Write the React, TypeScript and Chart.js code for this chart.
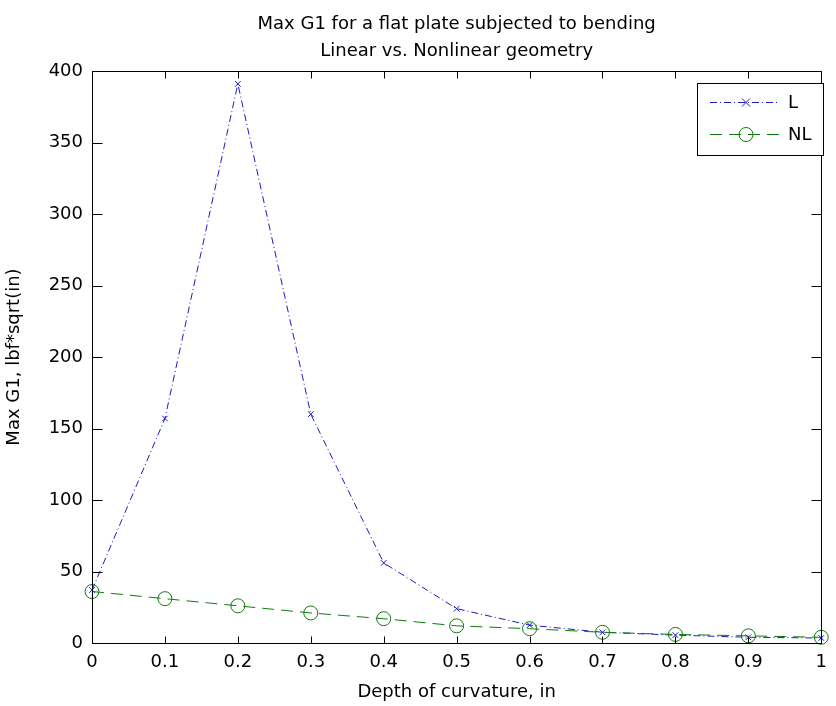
import React, { useEffect, useRef } from "react";
import { Chart, registerables } from "chart.js";

Chart.register(...registerables);

// ---- data ----
const depth = [0, 0.1, 0.2, 0.3, 0.4, 0.5, 0.6, 0.7, 0.8, 0.9, 1];
const linearG1 = [37, 157, 391, 160, 56, 24, 12.5, 7.5, 5.5, 4, 3.5];
const nonlinearG1 = [36, 31, 26, 21, 17, 12, 10, 7.5, 6, 5, 4];
const xTickValues = [0, 0.1, 0.2, 0.3, 0.4, 0.5, 0.6, 0.7, 0.8, 0.9, 1];
const yTickValues = [0, 50, 100, 150, 200, 250, 300, 350, 400];
const titleLines = ["Max G1 for a flat plate subjected to bending", "Linear vs. Nonlinear geometry"];
const xLabel = "Depth of curvature, in";
const yLabel = "Max G1, lbf*sqrt(in)";
const seriesNames = ["L", "NL"];

const FONT = "'DejaVu Sans', sans-serif";
const FONT_SIZE = 18;
const BLUE = "#1c1cc0";
const GREEN = "#107a10";
const L_DASH = [7, 3, 1, 3];
const NL_DASH = [12, 7];

const decorPlugin = {
  id: "matlabDecor",
  beforeDraw(chart: any) {
    const ctx = chart.ctx;
    ctx.save();
    ctx.fillStyle = "#ffffff";
    ctx.fillRect(0, 0, chart.width, chart.height);
    ctx.restore();
  },
  afterDraw(chart: any) {
    const ctx = chart.ctx;
    const a = chart.chartArea;
    const xs = chart.scales.x;
    const ys = chart.scales.y;
    ctx.save();
    ctx.strokeStyle = "#000";
    ctx.lineWidth = 1;
    ctx.setLineDash([]);
    // box
    const L = Math.round(a.left) + 0.5;
    const R = Math.round(a.right) + 0.5;
    const T = Math.round(a.top) + 0.5;
    const B = Math.round(a.bottom) + 0.5;
    ctx.beginPath();
    ctx.rect(L, T, R - L, B - T);
    ctx.stroke();
    // inward ticks
    const xtl = 7;
    const ytl = 10;
    ctx.beginPath();
    xTickValues.forEach((v) => {
      const px = Math.round(xs.getPixelForValue(v)) + 0.5;
      ctx.moveTo(px, B);
      ctx.lineTo(px, B - xtl);
      ctx.moveTo(px, T);
      ctx.lineTo(px, T + xtl);
    });
    yTickValues.forEach((v) => {
      const py = Math.round(ys.getPixelForValue(v)) + 0.5;
      ctx.moveTo(L, py);
      ctx.lineTo(L + ytl, py);
      ctx.moveTo(R, py);
      ctx.lineTo(R - ytl, py);
    });
    ctx.stroke();

    // legend
    const lx = 697.5, ly = 83.5, lw = 126, lh = 72;
    ctx.fillStyle = "#fff";
    ctx.fillRect(lx, ly, lw, lh);
    ctx.strokeStyle = "#000";
    ctx.strokeRect(lx, ly, lw, lh);
    const entries = [
      { y: 102, color: BLUE, dash: L_DASH, style: "crossRot", r: 4, name: seriesNames[0] },
      { y: 134, color: GREEN, dash: NL_DASH, style: "circle", r: 7, name: seriesNames[1] },
    ];
    entries.forEach((e) => {
      ctx.strokeStyle = e.color;
      ctx.lineWidth = 1;
      ctx.setLineDash(e.dash);
      ctx.beginPath();
      ctx.moveTo(710, e.y + 0.5);
      ctx.lineTo(780, e.y + 0.5);
      ctx.stroke();
      ctx.setLineDash([]);
      ctx.beginPath();
      const cx = 746, cy = e.y + 0.5;
      if (e.style === "circle") {
        ctx.arc(cx, cy, e.r, 0, Math.PI * 2);
      } else {
        ctx.moveTo(cx - e.r, cy - e.r);
        ctx.lineTo(cx + e.r, cy + e.r);
        ctx.moveTo(cx - e.r, cy + e.r);
        ctx.lineTo(cx + e.r, cy - e.r);
      }
      ctx.stroke();
      ctx.fillStyle = "#000";
      ctx.font = `${FONT_SIZE}px ${FONT}`;
      ctx.textAlign = "left";
      ctx.textBaseline = "middle";
      ctx.fillText(e.name, 788, e.y + 1);
    });

    // titles and axis labels
    ctx.fillStyle = "#000";
    ctx.font = `${FONT_SIZE}px ${FONT}`;
    ctx.textAlign = "center";
    ctx.textBaseline = "alphabetic";
    const cxp = (a.left + a.right) / 2;
    ctx.fillText(titleLines[0], cxp, 29);
    ctx.fillText(titleLines[1], cxp, 56);
    ctx.fillText(xLabel, cxp, 697);
    ctx.save();
    ctx.translate(19, (a.top + a.bottom) / 2);
    ctx.rotate(-Math.PI / 2);
    ctx.fillText(yLabel, 0, 0);
    ctx.restore();
    ctx.restore();
  },
};

export default function App() {
  const canvasRef = useRef<HTMLCanvasElement | null>(null);

  useEffect(() => {
    const canvas = canvasRef.current;
    if (!canvas) return;
    const chart = new Chart(canvas, {
      type: "line",
      data: {
        datasets: [
          {
            label: seriesNames[0],
            data: depth.map((d, i) => ({ x: d, y: linearG1[i] })),
            borderColor: BLUE,
            borderWidth: 1,
            borderDash: L_DASH,
            pointStyle: "crossRot",
            pointRadius: 4,
            pointBorderColor: BLUE,
            pointBackgroundColor: "rgba(0,0,0,0)",
            pointBorderWidth: 1,
            fill: false,
            tension: 0,
            clip: false,
            order: 1,
          },
          {
            label: seriesNames[1],
            data: depth.map((d, i) => ({ x: d, y: nonlinearG1[i] })),
            borderColor: GREEN,
            borderWidth: 1,
            borderDash: NL_DASH,
            pointStyle: "circle",
            pointRadius: 7,
            pointBorderColor: GREEN,
            pointBackgroundColor: "rgba(0,0,0,0)",
            pointBorderWidth: 1,
            fill: false,
            tension: 0,
            clip: false,
            order: 0,
          },
        ],
      },
      options: {
        responsive: false,
        animation: false,
        devicePixelRatio: 1,
        layout: { padding: { top: 71, right: 4, left: 0, bottom: 0 } },
        plugins: {
          legend: { display: false },
          title: { display: false },
          tooltip: { enabled: false },
        },
        scales: {
          x: {
            type: "linear",
            min: 0,
            max: 1,
            afterBuildTicks: (scale: any) => {
              scale.ticks = xTickValues.map((v) => ({ value: v }));
            },
            afterFit: (scale: any) => {
              scale.height = 63;
            },
            grid: { display: false, drawTicks: false },
            border: { display: false },
            ticks: {
              autoSkip: false,
              maxRotation: 0,
              padding: 9,
              color: "#000",
              font: { family: FONT, size: FONT_SIZE },
              callback: (v: any) => String(Math.round(Number(v) * 10) / 10),
            },
          },
          y: {
            type: "linear",
            min: 0,
            max: 400,
            afterBuildTicks: (scale: any) => {
              scale.ticks = yTickValues.map((v) => ({ value: v }));
            },
            afterFit: (scale: any) => {
              scale.width = 92;
            },
            grid: { display: false, drawTicks: false },
            border: { display: false },
            ticks: {
              autoSkip: false,
              padding: 9,
              color: "#000",
              font: { family: FONT, size: FONT_SIZE },
              callback: (v: any) => String(v),
            },
          },
        },
      },
      plugins: [decorPlugin],
    } as any);
    return () => chart.destroy();
  }, []);

  return (
    <div style={{ position: "fixed", left: 0, top: 0, width: 836, height: 706, background: "#fff" }}>
      <canvas ref={canvasRef} width={836} height={706} style={{ display: "block", width: 836, height: 706 }} />
    </div>
  );
}
